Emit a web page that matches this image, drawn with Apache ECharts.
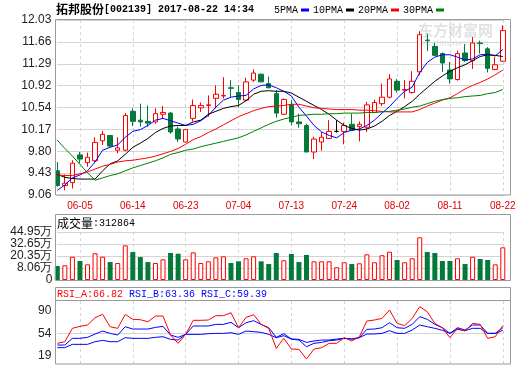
<!DOCTYPE html>
<html><head><meta charset="utf-8">
<script src="https://cdn.jsdelivr.net/npm/echarts@6/dist/echarts.min.js"></script>
<style>html,body{margin:0;padding:0;background:#fff}#c{width:520px;height:365px}</style>
</head><body><div id="c"></div>
<script>
const titleText = ['拓邦股份', '[002139] 2017-08-22 14:34'];
const dates = ['05-31','06-01','06-02','06-05','06-06','06-07','06-08','06-09','06-12','06-13',
 '06-14','06-15','06-16','06-19','06-20','06-21','06-22','06-23','06-26','06-27',
 '06-28','06-29','06-30','07-03','07-04','07-05','07-06','07-07','07-10','07-11',
 '07-12','07-13','07-14','07-17','07-18','07-19','07-20','07-21','07-24','07-25',
 '07-26','07-27','07-28','07-31','08-01','08-02','08-03','08-04','08-07','08-08',
 '08-09','08-10','08-11','08-14','08-15','08-16','08-17','08-18','08-21','08-22'];
const open  = [9.47,9.22,9.27,9.74,9.61,9.64,9.98,10.07,9.82,9.82,
 10.48,10.33,10.31,10.30,10.43,10.45,10.18,9.96,10.36,10.54,
 10.58,10.70,10.74,10.88,10.80,10.67,11.01,11.11,10.95,10.78,
 10.43,10.59,10.30,10.24,9.79,9.96,10.02,10.14,10.14,10.26,
 10.22,10.21,10.46,10.61,10.72,10.99,10.84,10.80,11.15,11.69,
 11.58,11.46,11.18,11.02,11.47,11.34,11.64,11.54,11.19,11.33];
const close = [9.22,9.26,9.60,9.67,9.70,9.95,10.09,9.89,9.86,10.41,
 10.31,10.30,10.28,10.44,10.46,10.13,10.01,10.17,10.58,10.58,
 10.59,10.77,10.75,10.87,10.68,10.98,11.13,10.98,10.88,10.45,
 10.68,10.30,10.27,9.79,10.01,10.04,10.14,10.14,10.24,10.16,
 10.26,10.59,10.63,10.72,11.03,10.84,10.85,10.99,11.78,11.68,
 11.43,11.30,11.03,11.46,11.34,11.64,11.63,11.21,11.27,11.85];
const high  = [9.62,9.41,9.65,9.79,9.78,10.04,10.15,10.08,10.04,10.45,
 10.53,10.61,10.58,10.53,10.57,10.47,10.22,10.18,10.68,10.63,
 10.75,10.92,11.06,11.01,10.92,11.05,11.19,11.12,11.07,10.84,
 10.70,10.67,10.44,10.27,10.05,10.13,10.33,10.33,10.29,10.44,
 10.31,10.64,10.68,10.95,11.11,11.03,11.01,11.16,11.84,11.80,
 11.64,11.48,11.32,11.51,11.62,11.74,11.68,11.57,11.40,11.94];
const low   = [9.20,9.14,9.17,9.60,9.54,9.62,9.91,9.88,9.77,9.80,
 10.23,10.22,10.22,10.27,10.36,10.10,9.96,9.95,10.31,10.47,
 10.39,10.53,10.70,10.72,10.55,10.65,10.98,10.97,10.87,10.37,
 10.42,10.24,10.20,9.79,9.67,9.81,10.01,10.12,9.92,10.15,
 9.97,10.13,10.45,10.57,10.70,10.80,10.70,10.78,11.09,11.50,
 11.42,11.15,10.95,11.00,11.32,11.20,11.46,11.14,11.18,11.32];
const ma5  = [9.14,9.23,9.35,9.40,9.47,9.62,9.82,9.87,9.91,10.04,
 10.14,10.17,10.24,10.33,10.36,10.32,10.28,10.24,10.26,10.32,
 10.41,10.55,10.67,10.72,10.74,10.75,10.86,10.92,10.93,10.88,
 10.82,10.74,10.55,10.40,10.24,10.13,10.07,10.03,10.12,10.16,
 10.18,10.24,10.33,10.45,10.56,10.70,10.82,10.89,11.14,11.31,
 11.40,11.44,11.44,11.40,11.35,11.37,11.44,11.45,11.42,11.53];
const ma10 = [9.41,9.36,9.34,9.33,9.33,9.33,9.47,9.59,9.64,9.75,
 9.87,9.94,10.02,10.12,10.19,10.23,10.24,10.24,10.30,10.33,
 10.43,10.48,10.53,10.56,10.58,10.66,10.77,10.82,10.83,10.82,
 10.82,10.79,10.72,10.65,10.58,10.51,10.43,10.33,10.24,10.19,
 10.16,10.18,10.23,10.31,10.41,10.48,10.56,10.65,10.77,10.88,
 10.99,11.08,11.16,11.22,11.27,11.34,11.41,11.44,11.43,11.41];
const ma20 = [9.40,9.39,9.39,9.42,9.45,9.50,9.55,9.58,9.62,9.64,
 9.65,9.67,9.69,9.72,9.76,9.80,9.85,9.92,10.00,10.05,
 10.12,10.18,10.25,10.32,10.39,10.44,10.49,10.53,10.56,10.57,
 10.58,10.60,10.60,10.57,10.54,10.53,10.52,10.51,10.51,10.51,
 10.50,10.50,10.49,10.48,10.47,10.47,10.47,10.47,10.51,10.57,
 10.62,10.67,10.71,10.78,10.86,10.92,10.97,11.03,11.10,11.18];
const ma30 = [9.99,9.85,9.72,9.58,9.44,9.31,9.35,9.39,9.42,9.47,
 9.52,9.56,9.60,9.64,9.69,9.75,9.78,9.82,9.84,9.88,
 9.91,9.94,9.97,10.00,10.03,10.08,10.14,10.20,10.26,10.31,
 10.35,10.38,10.41,10.42,10.43,10.43,10.44,10.44,10.45,10.45,
 10.45,10.46,10.46,10.47,10.48,10.50,10.52,10.55,10.57,10.61,
 10.65,10.68,10.70,10.71,10.73,10.74,10.75,10.78,10.80,10.85];
const volume = [13.4,14.1,22.3,18.2,15.0,25.6,22.3,17.2,16.3,33.2,
 26.8,22.0,17.2,16.3,19.8,25.9,25.2,19.8,26.5,16.3,
 17.9,21.7,22.7,16.3,17.9,20.8,22.7,17.9,15.3,25.9,
 18.9,24.9,17.2,24.0,17.9,17.9,17.9,12.2,17.0,15.3,
 16.0,24.6,17.0,23.7,27.1,19.2,17.0,20.8,40.9,26.8,
 25.9,18.2,18.2,20.8,15.3,22.3,20.1,19.2,15.0,31.29];
const rsiA = [38.7,41.3,62.5,65.6,67.8,79.4,84.7,65.1,62.5,84.7,
 76.8,76.2,73.0,82.0,82.0,51.9,38.7,52.9,75.2,75.2,
 75.7,82.6,82.6,87.3,63.5,79.9,84.2,68.8,62.5,30.7,
 46.6,29.7,29.1,13.8,29.7,31.8,38.7,38.7,47.7,42.4,
 49.2,74.1,75.7,78.3,91.6,70.4,66.7,78.3,96.9,88.9,
 70.4,63.5,47.7,62.5,58.2,70.4,68.8,46.6,49.2,66.82];
const rsiB = [36.0,36.0,46.6,46.6,48.2,53.5,58.2,54.5,51.9,65.1,
 61.4,61.4,61.4,64.0,65.6,51.9,48.2,52.9,66.2,66.2,
 66.2,68.8,68.8,72.0,63.5,71.5,74.6,68.8,63.5,48.2,
 54.0,45.5,43.9,33.4,38.7,40.2,42.9,43.9,46.6,45.5,
 47.7,60.9,61.4,63.5,71.5,63.5,62.5,68.8,81.0,76.8,
 68.8,63.5,54.5,63.5,59.8,67.8,67.8,54.5,54.5,63.36];
const rsiC = [31.8,31.8,37.1,37.1,37.1,41.3,43.4,41.3,41.3,47.7,
 46.6,46.6,46.6,48.2,49.2,45.0,43.9,52.9,52.9,52.9,
 54.0,54.5,54.5,55.6,52.9,58.2,57.2,56.1,52.9,47.7,
 50.8,45.5,45.0,40.2,42.4,43.9,43.9,45.5,46.6,45.5,
 47.7,53.5,53.5,54.5,58.8,54.5,54.5,59.8,67.8,65.1,
 62.5,59.3,54.5,60.9,58.8,62.5,62.5,54.5,54.5,59.39];
const priceTicks = ['9.06','9.43','9.80','10.17','10.54','10.92','11.29','11.66','12.03'];
const volTicks = ['0','8.06万','20.35万','32.65万','44.95万'];
const rsiTicks = [19, 54, 90];
const volLatest = '312864';
const rsiLatest = ['66.82', '63.36', '59.39'];

const UP = '#ff0000', DOWN = '#047a3a', GRID = '#d4d4d4', FRAME = '#9a9a9a';
const MONO = "'Liberation Mono', monospace";
const SANS = "'Liberation Sans', Arial, sans-serif";
const CJK = "'Noto Sans CJK SC', sans-serif";

const chart = echarts.init(document.getElementById('c'), null, {renderer: 'canvas'});
const labelEvery = (i) => (i - 3) % 7 === 0;
const GL = 57.3, GW = 445.5;

const candleData = dates.map((d, i) => {
  const item = {value: [open[i], close[i], low[i], high[i]]};
  if (open[i] === close[i]) item.itemStyle = {color: '#000', borderColor: '#000', color0: '#000', borderColor0: '#000'};
  return item;
});
const volData = dates.map((d, i) => {
  const up = close[i] >= open[i];
  return {value: volume[i], itemStyle: up ? {color: '#fff', borderColor: UP, borderWidth: 1} : {color: DOWN}};
});

const xBase = (gi, showLabel) => ({
  type: 'category', gridIndex: gi, data: dates, boundaryGap: false,
  axisLine: {show: false}, axisTick: {show: false},
  axisLabel: showLabel ? {show: true, interval: labelEvery, color: '#e00000', fontSize: 10, fontFamily: SANS, margin: 6} : {show: false},
  splitLine: {show: true, interval: labelEvery, lineStyle: {color: GRID, type: [3, 3], width: 1}}
});

const option = {
  animation: false,
  backgroundColor: '#fff',
  title: {
    text: '{c|' + titleText[0] + '}{m|' + titleText[1] + '}',
    left: 56, top: 3, padding: 0,
    textStyle: {rich: {
      c: {fontFamily: CJK, fontSize: 12, color: '#000'},
      m: {fontFamily: MONO, fontSize: 10, color: '#000'}
    }}
  },
  legend: {
    data: ['5PMA', '10PMA', '20PMA', '30PMA'], left: 274, top: 5, padding: 0,
    icon: 'rect', itemWidth: 8, itemHeight: 3, itemGap: 4, align: 'right',
    textStyle: {fontFamily: MONO, fontSize: 10, color: '#000', padding: [0, -2, 0, 0]},
    selectedMode: false
  },
  grid: [
    {left: GL, top: 20, width: GW, height: 175},
    {left: GL, top: 232, width: GW, height: 48},
    {left: GL, top: 301, width: GW, height: 63}
  ],
  xAxis: [xBase(0, true), xBase(1, false), xBase(2, false)],
  yAxis: [
    {type: 'value', gridIndex: 0, min: 0, max: 8, interval: 1,
     axisLine: {show: false}, axisTick: {show: false},
     axisLabel: {formatter: (v) => priceTicks[Math.round(v)], fontFamily: SANS, fontSize: 12, color: '#222', margin: 6},
     splitLine: {show: true, lineStyle: {color: GRID, width: 1}}},
    {type: 'value', gridIndex: 0, min: 9.06, max: 12.03, show: false, splitLine: {show: false}},
    {type: 'value', gridIndex: 1, min: 0, max: 4, interval: 1,
     axisLine: {show: false}, axisTick: {show: false},
     axisLabel: {formatter: (v) => volTicks[Math.round(v)], fontFamily: SANS, fontSize: 12, color: '#222', margin: 5},
     splitLine: {show: true, lineStyle: {color: GRID, width: 1}}},
    {type: 'value', gridIndex: 1, min: 0, max: 46, show: false, splitLine: {show: false}},
    {type: 'value', gridIndex: 2, min: 5.9, max: 105.9,
     axisLine: {show: false}, axisTick: {show: false, customValues: rsiTicks},
     axisLabel: {customValues: rsiTicks, fontFamily: SANS, fontSize: 12, color: '#222', margin: 6},
     splitLine: {show: false}}
  ],
  series: [
    {type: 'candlestick', xAxisIndex: 0, yAxisIndex: 1, data: candleData, barWidth: 5, clip: false,
     itemStyle: {color: '#fff', color0: DOWN, borderColor: UP, borderColor0: DOWN, borderWidth: 1}},
    {name: '5PMA', type: 'line', xAxisIndex: 0, yAxisIndex: 1, data: ma5, showSymbol: false, symbol: 'none', lineStyle: {color: '#0000ff', width: 1}, itemStyle: {color: '#0000ff'}},
    {name: '10PMA', type: 'line', xAxisIndex: 0, yAxisIndex: 1, data: ma10, showSymbol: false, symbol: 'none', lineStyle: {color: '#000000', width: 1}, itemStyle: {color: '#000000'}},
    {name: '20PMA', type: 'line', xAxisIndex: 0, yAxisIndex: 1, data: ma20, showSymbol: false, symbol: 'none', lineStyle: {color: '#ff0000', width: 1}, itemStyle: {color: '#ff0000'}},
    {name: '30PMA', type: 'line', xAxisIndex: 0, yAxisIndex: 1, data: ma30, showSymbol: false, symbol: 'none', lineStyle: {color: '#008000', width: 1}, itemStyle: {color: '#008000'}},
    {type: 'bar', xAxisIndex: 1, yAxisIndex: 3, data: volData, barWidth: 5, clip: false},
    {type: 'line', xAxisIndex: 2, yAxisIndex: 4, data: rsiC, symbol: 'none', lineStyle: {color: '#0000ff', width: 1},
     markLine: {silent: true, symbol: 'none', label: {show: false}, lineStyle: {color: GRID, type: 'solid', width: 1}, data: [{yAxis: 54}], z: 1}},
    {type: 'line', xAxisIndex: 2, yAxisIndex: 4, data: rsiB, symbol: 'none', lineStyle: {color: '#0000ff', width: 1}},
    {type: 'line', xAxisIndex: 2, yAxisIndex: 4, data: rsiA, symbol: 'none', lineStyle: {color: '#ff0000', width: 1}}
  ],
  graphic: [
    {type: 'text', x: 418, y: 23, z: 0, silent: true, style: {text: '东方财富网', fill: '#e2e2e2', font: "bold 15px 'Noto Sans CJK SC'"}},
    {type: 'text', x: 421, y: 39, z: 0, silent: true, style: {text: 'eastmoney.com', fill: '#e8e8e8', font: "italic bold 9px 'Liberation Sans'"}},
    {type: 'rect', silent: true, z: 10, shape: {x: 55.5, y: 19.5, width: 455, height: 175.5}, style: {fill: null, stroke: FRAME, lineWidth: 1}},
    {type: 'rect', silent: true, z: 10, shape: {x: 55.5, y: 214.5, width: 455, height: 66}, style: {fill: null, stroke: FRAME, lineWidth: 1}},
    {type: 'rect', silent: true, z: 10, shape: {x: 55.5, y: 287.5, width: 455, height: 76.5}, style: {fill: null, stroke: FRAME, lineWidth: 1}},
    {type: 'line', silent: true, z: 10, shape: {x1: 55.5, y1: 300.5, x2: 510.5, y2: 300.5}, style: {stroke: FRAME, lineWidth: 1}},
    {type: 'text', x: 57, y: 217, z: 10, style: {
      text: '{c|成交量}{m|:' + volLatest + '}',
      rich: {c: {fontFamily: CJK, fontSize: 12, fill: '#000'}, m: {fontFamily: MONO, fontSize: 10, fill: '#000'}}}},
    {type: 'text', x: 57, y: 289, z: 10, style: {
      text: '{a|RSI_A:' + rsiLatest[0] + '} {b|RSI_B:' + rsiLatest[1] + '} {b|RSI_C:' + rsiLatest[2] + '}',
      font: "10px 'Liberation Mono'",
      rich: {a: {fontFamily: MONO, fontSize: 10, fill: '#ff0000'}, b: {fontFamily: MONO, fontSize: 10, fill: '#0000ff'}}}}
  ]
};
chart.setOption(option);
</script>
</body></html>
